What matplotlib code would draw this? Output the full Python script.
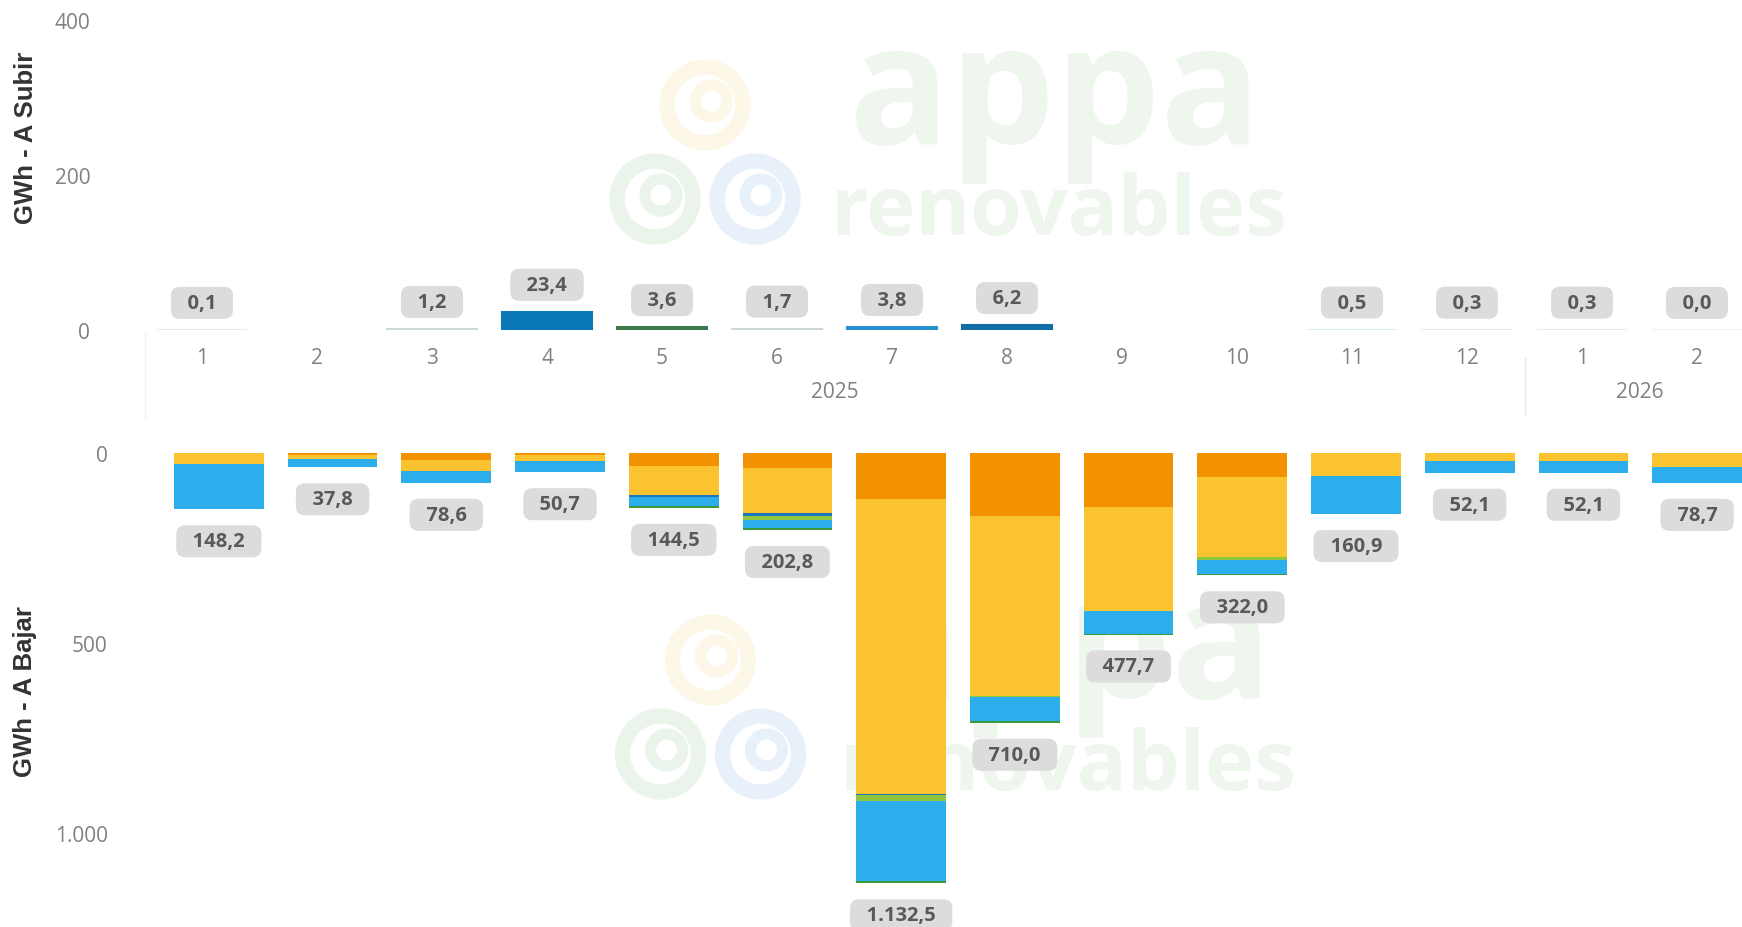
import numpy as np
import matplotlib
matplotlib.use("Agg")
import matplotlib.pyplot as plt
import matplotlib.patches as mpatches
import matplotlib.transforms as mtransforms

plt.rcParams['font.family'] = ['Open Sans', 'DejaVu Sans']

# months on the axis, and the year groups
meses = ['1', '2', '3', '4', '5', '6', '7', '8', '9', '10', '11', '12', '1', '2']
anios = ['2025', '2026']
anio_pos = [5.5, 12.5]

# GWh a subir (top chart); nan = no data that month
subir = [0.1, np.nan, 1.2, 23.4, 3.6, 1.7, 3.8, 6.2, np.nan, np.nan, 0.5, 0.3, 0.3, 0.0]
subir_col = ['#e4eded', '#ffffff', '#cdd9d9', '#0b78b8', '#3f7a4c', '#cdd6d6', '#2a8fce',
             '#136ea6', '#ffffff', '#ffffff', '#dcebeb', '#e3ecec', '#e3ecec', '#eef3f3']

# GWh a bajar (bottom chart), stacked from the zero line downwards
naranja    = [0, 4.5, 19, 6.5, 35, 40, 120, 165, 141, 62, 0, 0, 0, 0]
amarillo   = [28, 12, 28, 15.5, 74.5, 119, 777, 475, 276, 212, 61, 21.5, 21, 36]
azul_osc   = [0, 0, 0, 0, 6, 6, 4, 0, 0, 0, 0, 0, 0, 0]
verde_cl   = [0, 0, 0, 0, 0, 12, 14, 1, 0, 8, 0, 0, 0, 0]
azul       = [120.2, 21.3, 31.6, 27.7, 24.5, 19.8, 211, 63, 58, 37, 99.9, 30.6, 31.1, 42.7]
verde_osc  = [0, 0, 0, 1, 4.5, 6, 6.5, 6, 2.7, 3, 0, 0, 0, 0]

bajar_series = [naranja, amarillo, azul_osc, verde_cl, azul, verde_osc]
bajar_col = ['#f39200', '#fcc330', '#1b75bb', '#8dc63f', '#2baeeb', '#3a9a3a']


def fmt(v):
    s = f"{v:,.1f}"
    return s.replace(",", "_").replace(".", ",").replace("_", ".")


W, H = 1742, 928
fig = plt.figure(figsize=(W / 100, H / 100), dpi=100)

# --- faint watermark (logo) behind everything
px = mtransforms.IdentityTransform()
for dy in (0, 555):
    for (cx, cy, c) in [(705, 106, '#fdf7e8'), (655, 200, '#eaf4ea'), (755, 200, '#e8f1fa')]:
        ox = cx + dy * 0.01
        fig.patches.append(mpatches.Circle((ox, H - cy - dy), 38, fill=False,
                                           lw=11, ec=c, transform=px, zorder=-2))
        fig.patches.append(mpatches.Circle((ox + 6, H - cy - dy + 4), 16, fill=False,
                                           lw=8, ec=c, transform=px, zorder=-2))
    fig.text((1055 + dy * 0.02) / W, 1 - (100 + dy) / H, 'appa', fontsize=120, color='#eef6ee',
             ha='center', va='center', fontweight='bold', zorder=-2)
    fig.text((1059 + dy * 0.015) / W, 1 - (214 + dy) / H, 'renovables', fontsize=60, color='#eef6ee',
             ha='center', va='center', fontweight='bold', zorder=-2)

lab_box = dict(boxstyle='round,pad=0.3,rounding_size=0.45', fc='#dcdcdc', ec='none')
lab_kw = dict(ha='center', va='center', fontsize=14.5, fontweight='bold', color='#595959',
              bbox=lab_box, textcoords='offset points', annotation_clip=False)
x = np.arange(len(meses))

# --- top chart
ax1 = fig.add_axes([144.5 / W, (H - 331) / H, 1610 / W, 310 / H])
ax1.set_facecolor('none')
ax1.bar(x, subir, width=0.78, color=subir_col, edgecolor=subir_col, linewidth=1.5)
ax1.set_xlim(-0.5, 13.5)
ax1.set_ylim(0, 400)
ax1.set_yticks([0, 200, 400])
ax1.set_yticklabels(['0', '200', '400'])
ax1.set_xticks([])
for s in ax1.spines.values():
    s.set_visible(False)
ax1.tick_params(axis='y', length=0, pad=39, labelsize=15, labelcolor='#808080')
for i, v in enumerate(subir):
    if not np.isnan(v):
        ax1.annotate('  ' + fmt(v) + '  ', xy=(i, v), xytext=(0, 19.5), **lab_kw)
for i, m in enumerate(meses):
    ax1.annotate(m, xy=(i, 0), xycoords=('data', 'axes fraction'), xytext=(0, -19.5),
                 textcoords='offset points', ha='center', va='center', fontsize=15, color='#808080')
for a, p in zip(anios, anio_pos):
    ax1.annotate(a, xy=(p, 0), xycoords=('data', 'axes fraction'), xytext=(0, -44.5),
                 textcoords='offset points', ha='center', va='center', fontsize=15, color='#808080')
ax1.axvline(11.5, ymin=-0.09, ymax=-0.27, color='#e6e6e6', lw=1, clip_on=False)
ax1.axvline(-0.5, ymin=-0.01, ymax=-0.28, color='#f2f2f2', lw=1, clip_on=False)

# --- bottom chart
ax2 = fig.add_axes([162 / W, 0, 1592 / W, (H - 454) / H])
ax2.set_facecolor('none')
base = np.zeros(len(meses))
for vals, col in zip(bajar_series, bajar_col):
    ax2.bar(x, vals, width=0.79, bottom=base, color=col, linewidth=0)
    base = base + np.array(vals)
ax2.set_xlim(-0.5, 13.5)
ax2.set_ylim((H - 454) / 0.38, 0)
ax2.set_yticks([0, 500, 1000])
ax2.set_yticklabels(['0', '500', '1.000'])
ax2.set_xticks([])
for s in ax2.spines.values():
    s.set_visible(False)
ax2.tick_params(axis='y', length=0, pad=39, labelsize=15, labelcolor='#808080')
for i, t in enumerate(base):
    ax2.annotate('  ' + fmt(t) + '  ', xy=(i, t), xytext=(0, -23), **lab_kw)

fig.text(26 / W, 1 - 138 / H, 'GWh - A Subir', rotation=90, ha='center', va='center',
         fontsize=18.5, fontweight='bold', color='#333333', family=['Liberation Sans', 'DejaVu Sans'])
fig.text(25 / W, 1 - 692 / H, 'GWh - A Bajar', rotation=90, ha='center', va='center',
         fontsize=18.5, fontweight='bold', color='#333333', family=['Liberation Sans', 'DejaVu Sans'])

fig.savefig('out.png', dpi=100)
